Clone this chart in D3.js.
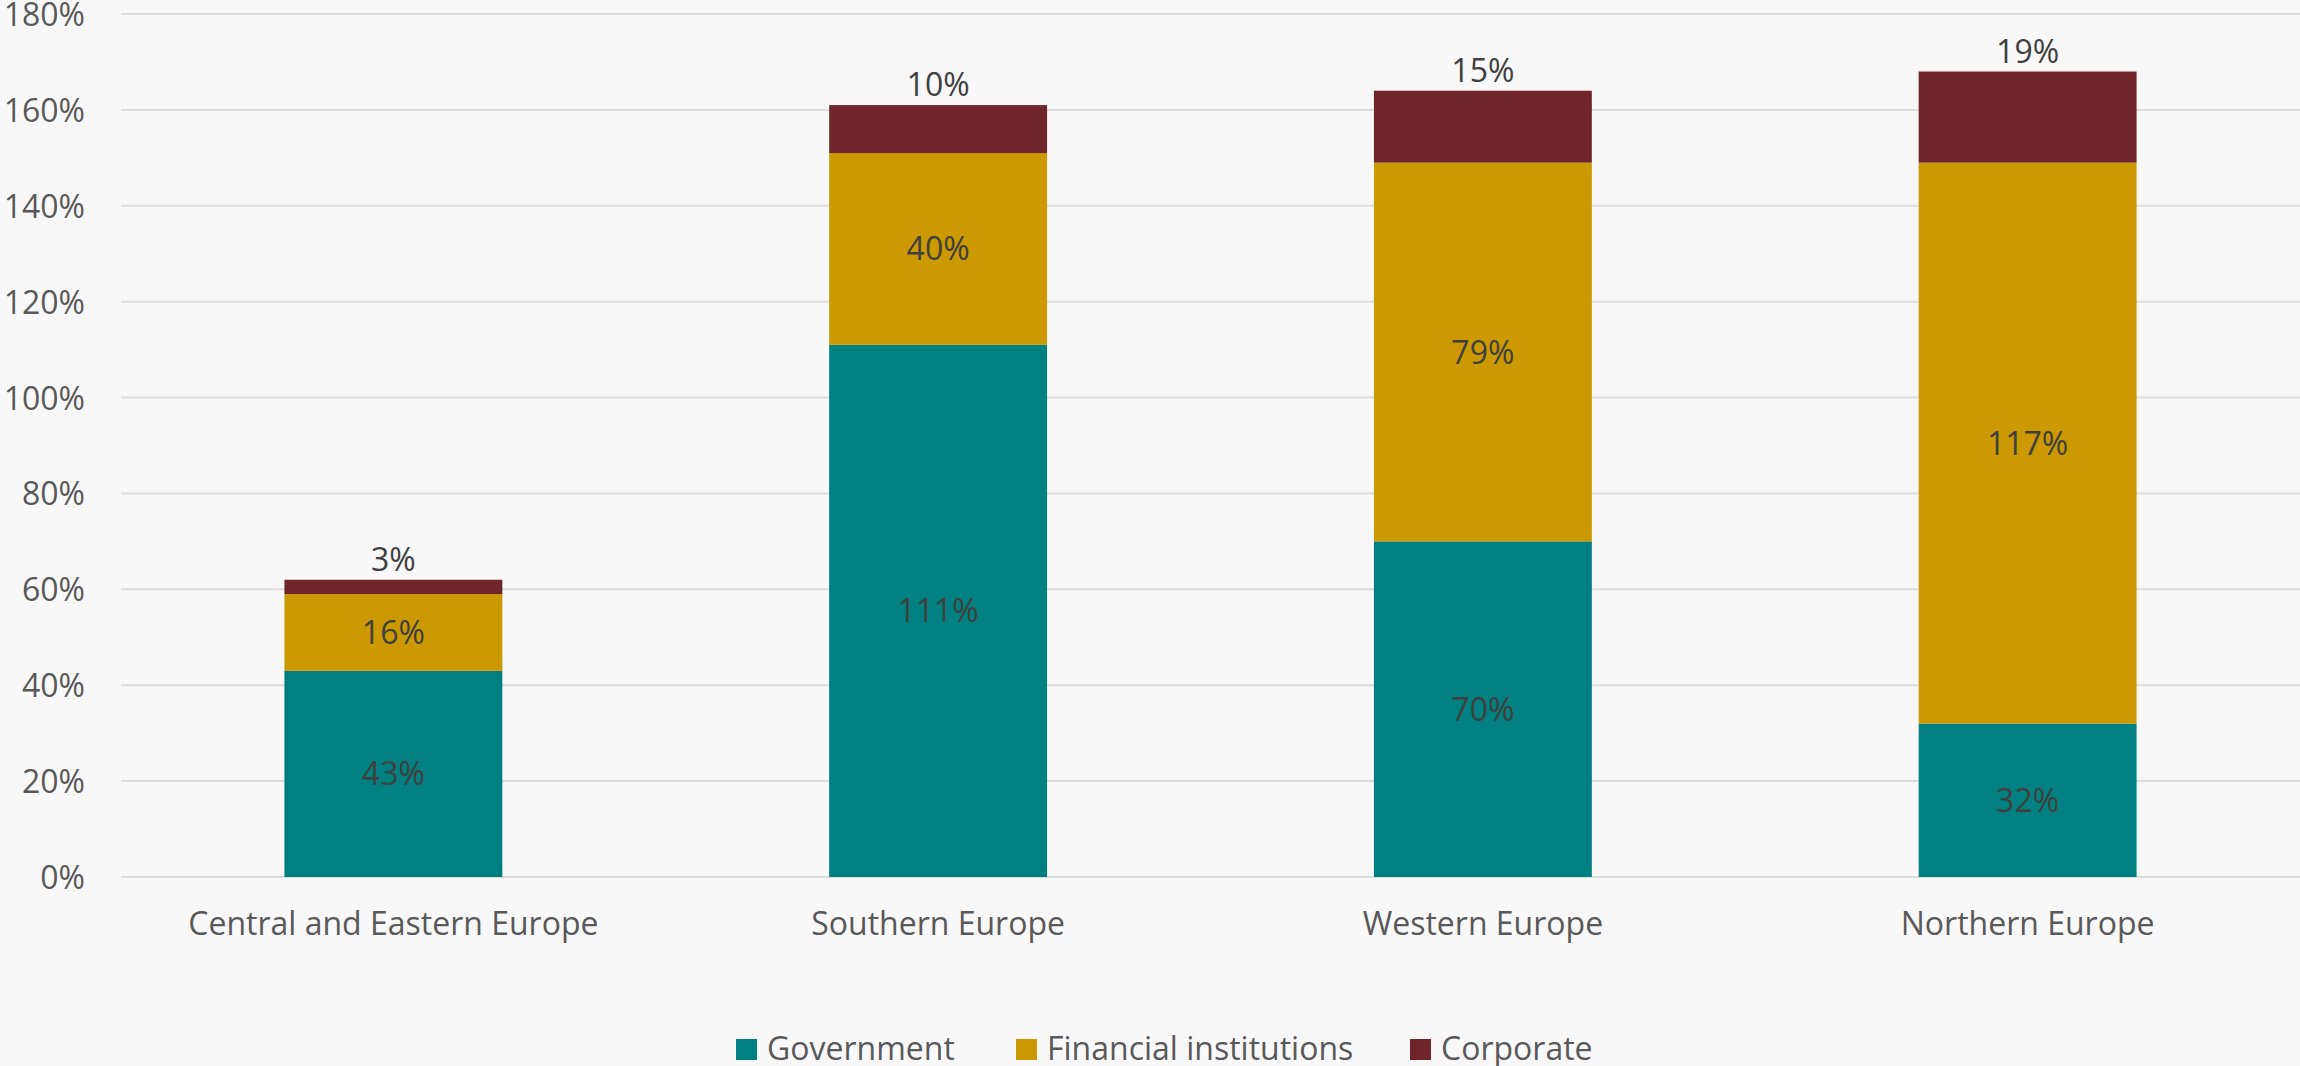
<!DOCTYPE html>
<html>
<head>
<meta charset="utf-8">
<script src="https://cdn.jsdelivr.net/npm/d3@7"></script>
<style>
  html, body { margin: 0; padding: 0; background: #f8f8f8; }
  svg { display: block; }
  text { font-family: "Open Sans", sans-serif; }
</style>
</head>
<body>
<svg id="chart" width="2300" height="1066"></svg>
<script>
// Regions along the x axis
const regions = ["Central and Eastern Europe", "Southern Europe", "Western Europe", "Northern Europe"];
// Stacked series, in % of GDP
const seriesNames = ["Government", "Financial institutions", "Corporate"];
const government = [43, 111, 70, 32];
const financial = [16, 40, 79, 117];
const corporate = [3, 10, 15, 19];
// Y axis ticks
const yTicks = [0, 20, 40, 60, 80, 100, 120, 140, 160, 180];

const colors = ["#008080", "#cc9900", "#6f252a"];

const W = 2300, H = 1066;
const margin = { left: 121, right: 0, top: 14, bottom: 189 };
const svg = d3.select("#chart");

const rows = regions.map((r, i) => ({
  region: r,
  "Government": government[i],
  "Financial institutions": financial[i],
  "Corporate": corporate[i]
}));
const stacked = d3.stack().keys(seriesNames)(rows);

const x = d3.scaleBand()
  .domain(regions)
  .range([margin.left, W - margin.right])
  .paddingInner(0.6)
  .paddingOuter(0.3);

const y = d3.scaleLinear()
  .domain([0, 180])
  .range([H - margin.bottom, margin.top]);

// Gridlines
svg.append("g")
  .selectAll("line")
  .data(yTicks)
  .join("line")
  .attr("x1", margin.left)
  .attr("x2", W)
  .attr("y1", d => y(d))
  .attr("y2", d => y(d))
  .attr("stroke", "#dcdcdc")
  .attr("stroke-width", 2);

// Y axis labels
const yAxis = d3.axisLeft(y).tickValues(yTicks).tickFormat(d => d + "%").tickSize(0).tickPadding(0);
const gy = svg.append("g").attr("transform", `translate(85,0)`).call(yAxis);
gy.select(".domain").remove();
gy.selectAll("text")
  .attr("font-family", "Open Sans, sans-serif")
  .attr("font-size", 32)
  .attr("fill", "#595959")
  .attr("dy", "0.36em");

// Bars
const layer = svg.append("g")
  .selectAll("g")
  .data(stacked)
  .join("g")
  .attr("fill", (d, i) => colors[i]);

layer.selectAll("rect")
  .data(d => d)
  .join("rect")
  .attr("x", d => x(d.data.region))
  .attr("width", x.bandwidth())
  .attr("y", d => y(d[1]))
  .attr("height", d => y(d[0]) - y(d[1]));

// Data labels: inside for Government and Financial, above the bar for Corporate
stacked.forEach((s, si) => {
  svg.append("g")
    .selectAll("text")
    .data(s)
    .join("text")
    .attr("x", d => x(d.data.region) + x.bandwidth() / 2)
    .attr("y", d => si < 2 ? (y(d[0]) + y(d[1])) / 2 : y(d[1]) - 9)
    .attr("dy", si < 2 ? "0.36em" : 0)
    .attr("text-anchor", "middle")
    .attr("font-size", 32)
    .attr("fill", "#404040")
    .text(d => (d[1] - d[0]) + "%");
});

// Category labels
const xAxis = d3.axisBottom(x).tickSize(0).tickPadding(0);
const gx = svg.append("g").attr("transform", `translate(0,${y(0)})`).call(xAxis);
gx.select(".domain").remove();
gx.selectAll("text")
  .attr("font-family", "Open Sans, sans-serif")
  .attr("font-size", 32)
  .attr("fill", "#595959")
  .attr("dy", 0)
  .attr("y", 58);

// Legend
const legendX = [736, 1016, 1410];
const legend = svg.append("g")
  .selectAll("g")
  .data(seriesNames)
  .join("g")
  .attr("transform", (d, i) => `translate(${legendX[i]},1039)`);
legend.append("rect")
  .attr("width", 21).attr("height", 21)
  .attr("fill", (d, i) => colors[i]);
legend.append("text")
  .attr("x", 31).attr("y", 21)
  .attr("font-size", 32)
  .attr("fill", "#595959")
  .text(d => d);
</script>
</body>
</html>
